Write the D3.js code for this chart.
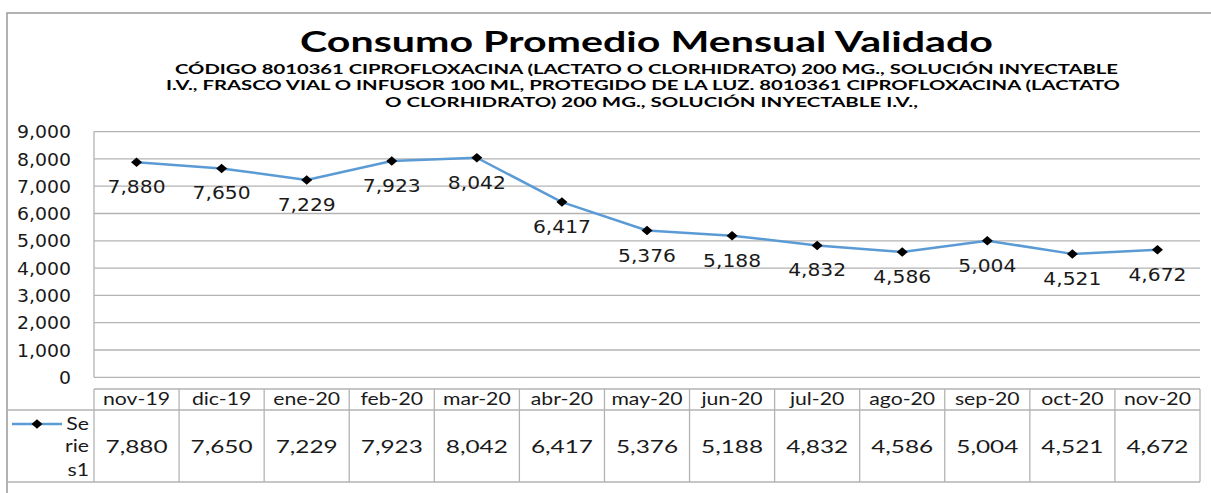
<!DOCTYPE html>
<html>
<head>
<meta charset="utf-8">
<script src="https://cdn.jsdelivr.net/npm/d3@7"></script>
<style>
  html, body { margin: 0; padding: 0; background: #fff; }
  svg { display: block; }
</style>
</head>
<body>
<div id="chart"></div>
<script>
const categories = ['nov-19', 'dic-19', 'ene-20', 'feb-20', 'mar-20', 'abr-20', 'may-20',
  'jun-20', 'jul-20', 'ago-20', 'sep-20', 'oct-20', 'nov-20'];
const values = [7880, 7650, 7229, 7923, 8042, 6417, 5376, 5188, 4832, 4586, 5004, 4521, 4672];
const yTicks = [0, 1000, 2000, 3000, 4000, 5000, 6000, 7000, 8000, 9000];
const seriesName = ['Se', 'rie', 's1'];
const title = 'Consumo Promedio Mensual Validado';
const subtitle = [
  'CÓDIGO 8010361 CIPROFLOXACINA (LACTATO O CLORHIDRATO) 200 MG., SOLUCIÓN INYECTABLE',
  'I.V., FRASCO VIAL O INFUSOR 100 ML, PROTEGIDO DE LA LUZ. 8010361 CIPROFLOXACINA (LACTATO',
  'O CLORHIDRATO) 200 MG., SOLUCIÓN INYECTABLE I.V.,'
];

const w = 1211, h = 493;
const svg = d3.select('#chart').append('svg')
  .attr('width', w)
  .attr('height', h);

const grid = '#b3b3b3';
const lineColor = '#5b9bd5';
const fmt = d3.format(',');

const x = d3.scaleBand().domain(categories).range([94, 1200]);
const y = d3.scaleLinear().domain([0, 9000]).range([377.3, 131.6]);

// the picture is squashed wider than the font, so stretch texts to a target width
function stretchTo(sel, sample, target) {
  const probe = svg.append('text').attr('font-family', sel.attr('font-family'))
    .attr('font-size', sel.attr('font-size')).attr('font-weight', sel.attr('font-weight'))
    .text(sample);
  const k = target / probe.node().getComputedTextLength();
  probe.remove();
  sel.each(function () {
    const len = this.getComputedTextLength();
    d3.select(this).attr('textLength', len * k).attr('lengthAdjust', 'spacingAndGlyphs');
  });
}

// outer border of the chart
svg.append('path')
  .attr('d', 'M7,493 V13 H1211')
  .attr('fill', 'none')
  .attr('stroke', '#999')
  .attr('stroke-width', 1.5);

// titles
svg.append('text')
  .attr('x', 300).attr('y', 52)
  .attr('font-family', 'Lato').attr('font-weight', 'bold').attr('font-size', 29)
  .attr('textLength', 693).attr('lengthAdjust', 'spacingAndGlyphs')
  .text(title);

const subX = [[175, 943], [166, 954], [385, 533]];
svg.selectAll('.sub')
  .data(subtitle)
  .enter()
  .append('text')
  .attr('class', 'sub')
  .attr('x', (d, i) => subX[i][0])
  .attr('y', (d, i) => 73.5 + i * 16.5)
  .attr('font-family', 'Lato').attr('font-weight', 'bold').attr('font-size', 14)
  .attr('textLength', (d, i) => subX[i][1]).attr('lengthAdjust', 'spacingAndGlyphs')
  .text((d) => d);

// gridlines
svg.selectAll('.grid')
  .data(yTicks)
  .enter()
  .append('line')
  .attr('class', 'grid')
  .attr('x1', 94).attr('x2', 1200)
  .attr('y1', (d) => y(d)).attr('y2', (d) => y(d))
  .attr('stroke', grid).attr('stroke-width', 1.3);

svg.append('line')
  .attr('x1', 94).attr('x2', 94)
  .attr('y1', y(9000)).attr('y2', y(0))
  .attr('stroke', grid).attr('stroke-width', 1.3);

// y axis labels
const yAxis = svg.append('g')
  .attr('transform', 'translate(94,0)')
  .call(d3.axisLeft(y).tickValues(yTicks).tickFormat(fmt).tickSize(0).tickPadding(23));
yAxis.select('.domain').remove();
const yLabels = yAxis.selectAll('text')
  .attr('font-family', 'DejaVu Sans').attr('font-size', 17).attr('fill', '#1a1a1a')
  .attr('dy', '0.36em');
stretchTo(yLabels, '9,000', 54);

// series line and markers
const line = d3.line()
  .x((d, i) => x(categories[i]) + x.bandwidth() / 2)
  .y((d) => y(d));

svg.append('path')
  .datum(values)
  .attr('d', line)
  .attr('fill', 'none')
  .attr('stroke', lineColor)
  .attr('stroke-width', 2.5)
  .attr('stroke-linejoin', 'round');

const diamond = d3.symbol().type(d3.symbolSquare).size(50);
svg.selectAll('.marker')
  .data(values)
  .enter()
  .append('path')
  .attr('class', 'marker')
  .attr('d', diamond)
  .attr('transform', (d, i) =>
    `translate(${x(categories[i]) + x.bandwidth() / 2},${y(d)}) scale(1.1,0.95) rotate(45)`)
  .attr('fill', '#000');

// data labels under the points
const dataLabels = svg.selectAll('.dlabel')
  .data(values)
  .enter()
  .append('text')
  .attr('class', 'dlabel')
  .attr('x', (d, i) => x(categories[i]) + x.bandwidth() / 2)
  .attr('y', (d) => y(d) + 31)
  .attr('text-anchor', 'middle')
  .attr('font-family', 'DejaVu Sans').attr('font-size', 18).attr('fill', '#1a1a1a')
  .text((d) => fmt(d));
stretchTo(dataLabels, '7,880', 58);

// data table below the plot
const tTop = 389, tMid = 410, tBot = 482;
svg.append('line')
  .attr('x1', 94).attr('x2', 1200).attr('y1', tTop).attr('y2', tTop)
  .attr('stroke', grid).attr('stroke-width', 1.3);
svg.selectAll('.hline')
  .data([tMid, tBot])
  .enter()
  .append('line')
  .attr('x1', 7).attr('x2', 1200)
  .attr('y1', (d) => d).attr('y2', (d) => d)
  .attr('stroke', grid).attr('stroke-width', 1.3);
svg.selectAll('.vline')
  .data(categories.concat(['end']))
  .enter()
  .append('line')
  .attr('x1', (d) => d === 'end' ? 1200 : x(d))
  .attr('x2', (d) => d === 'end' ? 1200 : x(d))
  .attr('y1', tTop).attr('y2', tBot)
  .attr('stroke', grid).attr('stroke-width', 1.3);

const headers = svg.selectAll('.head')
  .data(categories)
  .enter()
  .append('text')
  .attr('x', (d) => x(d) + x.bandwidth() / 2)
  .attr('y', 405)
  .attr('text-anchor', 'middle')
  .attr('font-family', 'Lato').attr('font-size', 17).attr('fill', '#1a1a1a')
  .text((d) => d);
stretchTo(headers, 'nov-19', 67);

const cells = svg.selectAll('.cell')
  .data(values)
  .enter()
  .append('text')
  .attr('x', (d, i) => x(categories[i]) + x.bandwidth() / 2)
  .attr('y', 452.5)
  .attr('text-anchor', 'middle')
  .attr('font-family', 'Lato').attr('font-size', 17.5).attr('fill', '#1a1a1a')
  .text((d) => fmt(d));
stretchTo(cells, '7,880', 62);

// legend key in the table
svg.append('line')
  .attr('x1', 12).attr('x2', 62).attr('y1', 424).attr('y2', 424)
  .attr('stroke', lineColor).attr('stroke-width', 2.5);
svg.append('path')
  .attr('d', diamond)
  .attr('transform', 'translate(37,424) scale(1.1,0.95) rotate(45)')
  .attr('fill', '#000');
const legendText = svg.selectAll('.leg')
  .data(seriesName)
  .enter()
  .append('text')
  .attr('x', 89)
  .attr('y', (d, i) => [430, 451.5, 476][i])
  .attr('text-anchor', 'end')
  .attr('font-family', 'Lato').attr('font-size', 17).attr('fill', '#1a1a1a')
  .text((d) => d);
stretchTo(legendText, 'nov-19', 67);
</script>
</body>
</html>
